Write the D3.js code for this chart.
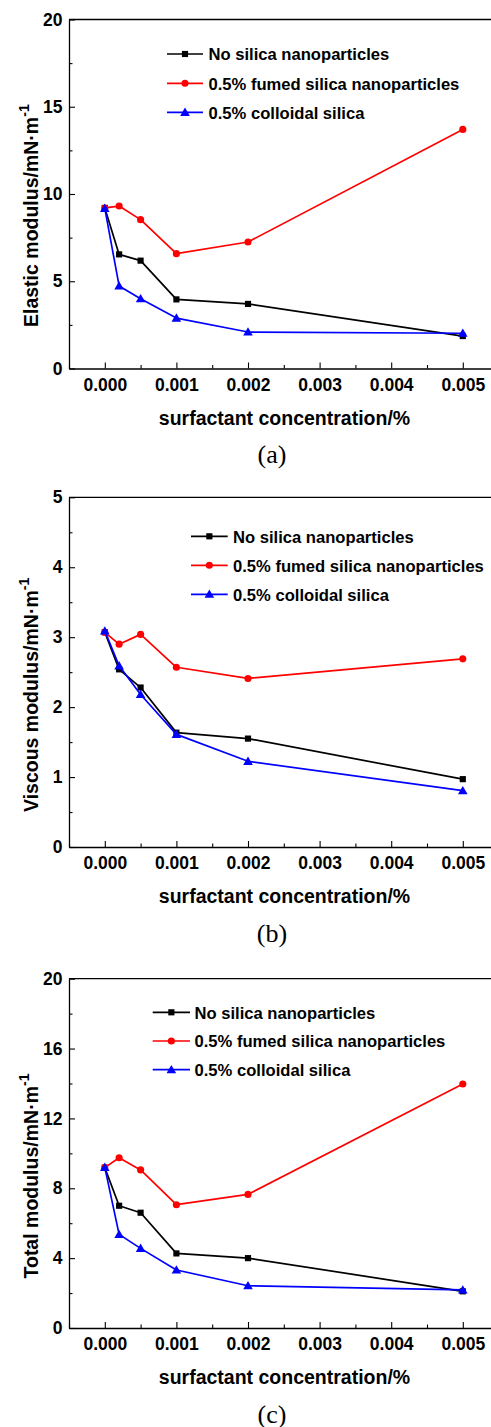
<!DOCTYPE html>
<html><head><meta charset="utf-8">
<script src="https://cdn.jsdelivr.net/npm/d3@7"></script>
<style>html,body{margin:0;padding:0;background:#fff;overflow:hidden}svg{display:block}</style>
</head><body>
<svg id="c" width="491" height="1427"></svg>
<script>
// ---------- data ----------
const xValues = [0, 0.0002, 0.0005, 0.001, 0.002, 0.005];
const xTickValues = [0, 0.001, 0.002, 0.003, 0.004, 0.005];
const xTickLabels = ["0.000", "0.001", "0.002", "0.003", "0.004", "0.005"];
const seriesNames = ["No silica nanoparticles", "0.5% fumed silica nanoparticles", "0.5% colloidal silica"];
const seriesColors = ["#000000", "#ff0000", "#0000ff"];
const seriesSymbols = ["square", "circle", "triangle"];

const elasticNoSilica  = [9.2, 6.54, 6.18, 3.96, 3.70, 1.86];
const elasticFumed     = [9.2, 9.31, 8.53, 6.58, 7.25, 13.7];
const elasticColloidal = [9.18, 4.73, 4.00, 2.89, 2.09, 2.02];

const viscousNoSilica  = [3.07, 2.54, 2.28, 1.635, 1.55, 0.97];
const viscousFumed     = [3.07, 2.90, 3.04, 2.57, 2.41, 2.69];
const viscousColloidal = [3.09, 2.59, 2.18, 1.61, 1.225, 0.805];

const totalNoSilica  = [9.18, 7.0, 6.6, 4.27, 4.0, 2.1];
const totalFumed     = [9.18, 9.75, 9.05, 7.06, 7.65, 13.97];
const totalColloidal = [9.2, 5.36, 4.56, 3.32, 2.42, 2.18];

const elasticTicks = [0, 5, 10, 15, 20];
const viscousTicks = [0, 1, 2, 3, 4, 5];
const totalTicks   = [0, 4, 8, 12, 16, 20];

const panels = [
  {top: 19.5, bottom: 368.5, yMax: 20, ticks: elasticTicks, minorStep: 2.5,
   title: "Elastic modulus/mN·m", titleStart: 327, letter: "(a)",
   series: [elasticNoSilica, elasticFumed, elasticColloidal],
   legend: {x0: 167, x1: 203, tx: 208.5, ys: [54, 83.3, 112.3]}},
  {top: 497.3, bottom: 847, yMax: 5, ticks: viscousTicks, minorStep: 0.5,
   title: "Viscous modulus/mN·m", titleStart: 812, letter: "(b)",
   series: [viscousNoSilica, viscousFumed, viscousColloidal],
   legend: {x0: 191, x1: 227.7, tx: 233, ys: [536.3, 565.3, 594.3]}},
  {top: 978.7, bottom: 1328, yMax: 20, ticks: totalTicks, minorStep: 2,
   title: "Total modulus/mN·m", titleStart: 1278.5, letter: "(c)",
   series: [totalNoSilica, totalFumed, totalColloidal],
   legend: {x0: 152.7, x1: 190, tx: 194.5, ys: [1012.3, 1041, 1069.7]}}
];

// ---------- drawing ----------
const svg = d3.select("#c");
const sans = "'Liberation Sans', Arial, sans-serif";
const serif = "'Liberation Serif', 'Times New Roman', serif";
const left = 69, rightEdge = 498.6;

const x = d3.scaleLinear().domain([-0.0005, 0.0055]).range([left, rightEdge]);

function symbolPath(type) {
  const t = type === "square" ? d3.symbolSquare : type === "circle" ? d3.symbolCircle : d3.symbolTriangle;
  const size = type === "square" ? 38 : type === "circle" ? 40 : 40;
  return d3.symbol().type(t).size(size)();
}

panels.forEach(p => {
  const g = svg.append("g");
  const y = d3.scaleLinear().domain([0, p.yMax]).range([p.bottom, p.top]);

  // frame: top line and right (off-screen)
  g.append("path").attr("d", `M${left},${p.top}H${rightEdge}V${p.bottom}`)
    .attr("fill", "none").attr("stroke", "#000").attr("stroke-width", 1.3);

  // x axis (inward ticks)
  const xMinor = d3.range(-0.0005, 0.00551, 0.0005).filter(v => Math.abs(Math.round(v / 0.001) * 0.001 - v) > 1e-9);
  const xAxis = d3.axisBottom(x).tickValues(xTickValues).tickSize(-6).tickPadding(10)
    .tickFormat((d, i) => xTickLabels[i]).tickSizeOuter(0);
  const gx = g.append("g").attr("transform", `translate(0,${p.bottom})`).call(xAxis);
  gx.select(".domain").attr("stroke-width", 1.3);
  gx.selectAll(".tick line").attr("stroke-width", 1.1);
  gx.selectAll(".tick text").attr("font-family", sans).attr("font-weight", "bold")
    .attr("font-size", 17.5).attr("fill", "#000");
  const gxm = g.append("g").attr("transform", `translate(0,${p.bottom})`)
    .call(d3.axisBottom(x).tickValues(xMinor).tickSize(-3.5).tickFormat("").tickSizeOuter(0));
  gxm.select(".domain").remove();
  gxm.selectAll(".tick line").attr("stroke-width", 1.1);

  // y axis
  const yAxis = d3.axisLeft(y).tickValues(p.ticks).tickSize(-6).tickPadding(6).tickSizeOuter(0)
    .tickFormat(d3.format("d"));
  const gy = g.append("g").attr("transform", `translate(${left},0)`).call(yAxis);
  gy.select(".domain").attr("stroke-width", 1.3);
  gy.selectAll(".tick line").attr("stroke-width", 1.1);
  gy.selectAll(".tick text").attr("font-family", sans).attr("font-weight", "bold")
    .attr("font-size", 17.5).attr("fill", "#000").attr("x", -6.5);
  const yMinor = d3.range(p.minorStep, p.yMax, p.minorStep).filter(v => !p.ticks.some(t => Math.abs(t - v) < 1e-9));
  const gym = g.append("g").attr("transform", `translate(${left},0)`)
    .call(d3.axisLeft(y).tickValues(yMinor).tickSize(-3.5).tickFormat("").tickSizeOuter(0));
  gym.select(".domain").remove();
  gym.selectAll(".tick line").attr("stroke-width", 1.1);

  // x title
  g.append("text").attr("x", 284.5).attr("y", p.bottom + 56)
    .attr("text-anchor", "middle").attr("font-family", sans).attr("font-weight", "bold")
    .attr("font-size", 19.5).text("surfactant concentration/%");

  // y title
  const yt = g.append("text").attr("transform", `translate(38,${p.titleStart}) rotate(-90)`)
    .attr("font-family", sans).attr("font-weight", "bold").attr("font-size", 19.5);
  yt.append("tspan").text(p.title);
  yt.append("tspan").attr("dy", -9).attr("font-size", 14).text("-1");

  // panel letter
  g.append("text").attr("x", 272).attr("y", p.bottom + 94.5).attr("text-anchor", "middle")
    .attr("font-family", serif).attr("font-size", 26).text(p.letter);

  // series
  const line = d3.line().x((d, i) => x(xValues[i])).y(d => y(d));
  p.series.forEach((vals, si) => {
    g.append("path").datum(vals).attr("d", line).attr("fill", "none")
      .attr("stroke", seriesColors[si]).attr("stroke-width", 1.7).attr("stroke-linejoin", "round");
    g.selectAll(null).data(vals).enter().append("path")
      .attr("d", symbolPath(seriesSymbols[si]))
      .attr("transform", (d, i) => `translate(${x(xValues[i])},${y(d) + (seriesSymbols[si] === "triangle" ? 0.8 : 0)})`)
      .attr("fill", seriesColors[si]);
  });

  // legend
  const L = p.legend;
  seriesNames.forEach((name, si) => {
    const yy = L.ys[si];
    g.append("line").attr("x1", L.x0).attr("x2", L.x1).attr("y1", yy).attr("y2", yy)
      .attr("stroke", seriesColors[si]).attr("stroke-width", 1.7);
    g.append("path").attr("d", symbolPath(seriesSymbols[si]))
      .attr("transform", `translate(${(L.x0 + L.x1) / 2},${yy + (seriesSymbols[si] === "triangle" ? 0.8 : 0)})`)
      .attr("fill", seriesColors[si]);
    g.append("text").attr("x", L.tx).attr("y", yy + 6.2)
      .attr("font-family", sans).attr("font-weight", "bold").attr("font-size", 16.6).text(name);
  });
});
</script>
</body></html>
